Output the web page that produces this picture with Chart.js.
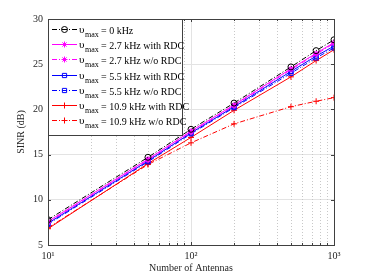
<!DOCTYPE html>
<html><head><meta charset="utf-8">
<script src="https://cdn.jsdelivr.net/npm/chart.js@4/dist/chart.umd.min.js"></script>
<style>html,body{margin:0;padding:0;background:#fff}#wrap{width:368px;height:276px}</style>
</head><body><div id="wrap"><canvas id="c" width="368" height="276"></canvas></div>
<script>
const antennas = [10, 50, 100, 200, 500, 750, 1000];
const sinr_0 = [7.8, 14.7, 17.8, 20.7, 24.7, 26.5, 27.7];
const sinr_27_rdc = [7.6, 14.5, 17.6, 20.5, 24.5, 26.2, 27.4];
const sinr_27_no = [7.5, 14.4, 17.5, 20.4, 24.4, 26.1, 27.3];
const sinr_55_rdc = [7.4, 14.3, 17.4, 20.3, 24.2, 25.9, 27.0];
const sinr_55_no = [7.3, 14.2, 17.3, 20.2, 24.0, 25.7, 26.8];
const sinr_109_rdc = [6.8, 14.0, 16.9, 19.9, 23.6, 25.4, 26.6];
const sinr_109_no = [6.9, 13.9, 16.3, 18.4, 20.3, 20.9, 21.3];
const legendSuffix = ['0 kHz', '2.7 kHz with RDC', '2.7 kHz w/o RDC', '5.5 kHz with RDC', '5.5 kHz w/o RDC', '10.9 kHz with RDC', '10.9 kHz w/o RDC'];
const xTickLabels = {10: '10\u00B9', 100: '10\u00B2', 1000: '10\u00B3'};
const yTicks = [5, 10, 15, 20, 25, 30];

const FONT = '"Liberation Serif", "Times New Roman", serif';
const DD = [5, 2, 1, 2];
function mk(vals, color, dash, style, i) {
  return {
    label: '\u03C5max = ' + legendSuffix[i],
    data: antennas.map((x, k) => ({x: x, y: vals[k]})),
    borderColor: color, backgroundColor: 'rgba(0,0,0,0)',
    borderWidth: 1, borderDash: dash, pointStyle: style,
    pointRadius: 3, pointBorderWidth: 1, pointBorderColor: color,
    pointBackgroundColor: 'rgba(0,0,0,0)', tension: 0
  };
}
const datasets = [
  mk(sinr_0, '#000000', DD, 'circle', 0),
  mk(sinr_27_rdc, '#ff00ff', [], 'star', 1),
  mk(sinr_27_no, '#ff00ff', DD, 'star', 2),
  mk(sinr_55_rdc, '#0000ff', [], 'rect', 3),
  mk(sinr_55_no, '#0000ff', DD, 'rect', 4),
  mk(sinr_109_rdc, '#ff0000', [], 'cross', 5),
  mk(sinr_109_no, '#ff0000', DD, 'cross', 6)
];

const decor = {
  id: 'decor',
  beforeDatasetsDraw(chart) {
    const ctx = chart.ctx, a = chart.chartArea, xs = chart.scales.x;
    ctx.save();
    ctx.lineWidth = 1;
    for (let dec = 10; dec < 1000; dec *= 10) {
      for (let m = 2; m <= 9; m++) {
        const px = Math.round(xs.getPixelForValue(dec * m)) + 0.5;
        ctx.strokeStyle = '#c8c8c8';
        ctx.setLineDash([1, 2]);
        ctx.beginPath(); ctx.moveTo(px, a.top); ctx.lineTo(px, a.bottom); ctx.stroke();
      }
    }
    ctx.setLineDash([]);
    const p100 = Math.round(xs.getPixelForValue(100)) + 0.5;
    ctx.strokeStyle = '#e3e3e3';
    ctx.beginPath(); ctx.moveTo(p100, a.top); ctx.lineTo(p100, a.bottom); ctx.stroke();
    ctx.restore();
  },
  afterDatasetsDraw(chart) {
    const ctx = chart.ctx, a = chart.chartArea, xs = chart.scales.x, ys = chart.scales.y;
    ctx.save();
    ctx.setLineDash([]);
    ctx.strokeStyle = '#404040';
    ctx.lineWidth = 1;
    ctx.beginPath();
    yTicks.forEach(v => {
      const py = Math.round(ys.getPixelForValue(v)) + 0.5;
      ctx.moveTo(a.left, py); ctx.lineTo(a.left + 3, py);
      ctx.moveTo(a.right, py); ctx.lineTo(a.right - 3, py);
    });
    for (let dec = 10; dec <= 1000; dec *= 10) {
      const maxm = dec === 1000 ? 1 : 9;
      for (let m = 1; m <= maxm; m++) {
        const px = Math.round(xs.getPixelForValue(dec * m)) + 0.5;
        const len = m === 1 ? 3 : 2;
        ctx.moveTo(px, a.bottom); ctx.lineTo(px, a.bottom - len);
        ctx.moveTo(px, a.top); ctx.lineTo(px, a.top + len);
      }
    }
    ctx.stroke();
    ctx.strokeRect(Math.round(a.left) + 0.5, Math.round(a.top) + 0.5, Math.round(a.right - a.left), Math.round(a.bottom - a.top));
    // legend
    const lx = Math.round(a.left) + 0.5, ly = Math.round(a.top) + 0.5, lw = 134, lh = 116;
    ctx.fillStyle = '#ffffff';
    ctx.fillRect(lx, ly, lw, lh);
    ctx.strokeStyle = '#404040';
    ctx.strokeRect(lx, ly, lw, lh);
    chart.data.datasets.forEach((ds, i) => {
      const y = Math.round(29 + i * 15.2) + 0.5;
      ctx.strokeStyle = ds.borderColor;
      ctx.lineWidth = 1;
      ctx.setLineDash(ds.borderDash);
      ctx.beginPath(); ctx.moveTo(52, y); ctx.lineTo(77, y); ctx.stroke();
      ctx.setLineDash([]);
      ctx.fillStyle = 'rgba(0,0,0,0)';
      Chart.helpers.drawPoint(ctx, {pointStyle: ds.pointStyle, radius: 3, borderWidth: 1, rotation: 0}, 64.5, y);
      ctx.fillStyle = '#000';
      ctx.textBaseline = 'alphabetic';
      ctx.textAlign = 'left';
      ctx.font = '11px ' + FONT;
      ctx.fillText('\u03C5', 79, y + 3);
      ctx.font = '8px ' + FONT;
      ctx.fillText('max', 85, y + 7);
      ctx.font = '10px ' + FONT;
      ctx.fillText('= ' + legendSuffix[i], 101, y + 4);
    });
    ctx.restore();
  }
};

new Chart(document.getElementById('c'), {
  type: 'line',
  data: {datasets: datasets},
  options: {
    responsive: false, animation: false, devicePixelRatio: 1,
    layout: {padding: {top: 19, right: 34, left: 0, bottom: 0}},
    plugins: {legend: {display: false}, tooltip: {enabled: false}},
    scales: {
      x: {
        type: 'logarithmic', min: 10, max: 1000,
        afterFit: s => { s.height = 31; },
        grid: {display: false, drawTicks: false}, border: {display: false},
        ticks: {
          autoSkip: false, maxRotation: 0, padding: 5, color: '#262626',
          font: {family: FONT, size: 10},
          callback: v => xTickLabels[v] || ''
        },
        afterBuildTicks: s => { s.ticks = [{value: 10}, {value: 100}, {value: 1000}]; },
        title: {display: true, text: 'Number of Antennas', color: '#262626', font: {family: FONT, size: 10}, padding: {top: 0, bottom: 2}}
      },
      y: {
        min: 5, max: 30,
        afterFit: s => { s.width = 48; },
        grid: {display: true, color: '#e3e3e3', drawTicks: false, lineWidth: 1},
        border: {display: false},
        ticks: {stepSize: 5, padding: 5, color: '#262626', font: {family: FONT, size: 10}},
        title: {display: true, text: 'SINR (dB)', color: '#262626', font: {family: FONT, size: 10}, padding: {top: 15, bottom: 0}}
      }
    }
  },
  plugins: [decor]
});
</script></body></html>
